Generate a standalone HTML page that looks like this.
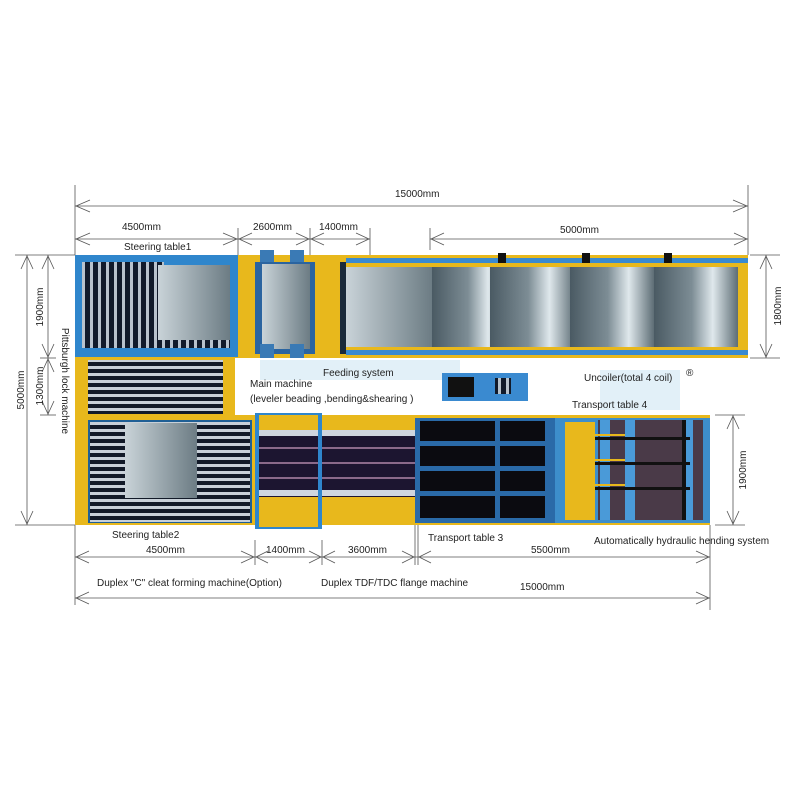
<!DOCTYPE html>
<html><head><meta charset="utf-8"><style>
body{margin:0;background:#fff;}
svg{display:block;font-family:"Liberation Sans",sans-serif;}
text{font-size:10px;fill:#222;}
</style></head><body>
<svg width="800" height="800" viewBox="0 0 800 800" xmlns="http://www.w3.org/2000/svg">
<defs>
<linearGradient id="coil" x1="0" x2="1" y1="0" y2="0">
<stop offset="0" stop-color="#4a5a63"/><stop offset="0.45" stop-color="#7d8d95"/><stop offset="0.7" stop-color="#dfe8ec"/><stop offset="1" stop-color="#5d6d75"/>
</linearGradient>
<linearGradient id="plate" x1="0" x2="1" y1="0" y2="0">
<stop offset="0" stop-color="#c9d3d8"/><stop offset="1" stop-color="#6c7c84"/>
</linearGradient>
<pattern id="vstripe" width="8" height="10" patternUnits="userSpaceOnUse">
<rect width="8" height="10" fill="#111a2a"/><rect x="2" width="3" height="10" fill="#b8c2cc"/>
</pattern>
<pattern id="hstripe" width="10" height="7" patternUnits="userSpaceOnUse">
<rect width="10" height="7" fill="#121a28"/><rect y="2" width="10" height="3" fill="#c8d0d8"/>
</pattern>
</defs>

<!-- watermark -->
<g fill="#d6e9f5" opacity="0.7">
<rect x="150" y="360" width="60" height="55"/>
<rect x="260" y="360" width="200" height="20"/>
<rect x="600" y="370" width="80" height="40"/>
</g>

<!-- dimension lines -->
<g stroke="#555" stroke-width="0.8" fill="none">
<line x1="75" y1="185" x2="75" y2="255"/><line x1="748" y1="185" x2="748" y2="255"/>
<line x1="75" y1="206" x2="748" y2="206"/>
<polyline points="90,200 76,206 90,212"/><polyline points="733,200 747,206 733,212"/>
<line x1="75" y1="239" x2="370" y2="239"/>
<line x1="238" y1="228" x2="238" y2="255"/><line x1="310" y1="228" x2="310" y2="255"/><line x1="370" y1="228" x2="370" y2="255"/>
<polyline points="90,233 76,239 90,245"/><polyline points="223,233 237,239 223,245"/>
<polyline points="252,233 239,239 252,245"/><polyline points="296,233 309,239 296,245"/>
<polyline points="324,233 311,239 324,245"/><polyline points="356,233 369,239 356,245"/>
<line x1="430" y1="239" x2="748" y2="239"/><line x1="430" y1="228" x2="430" y2="250"/>
<polyline points="444,233 431,239 444,245"/><polyline points="734,233 747,239 734,245"/>
<!-- left -->
<line x1="15" y1="255" x2="75" y2="255"/><line x1="15" y1="525" x2="75" y2="525"/>
<line x1="27" y1="255" x2="27" y2="525"/>
<polyline points="21,269 27,256 33,269"/><polyline points="21,511 27,524 33,511"/>
<line x1="48" y1="255" x2="48" y2="415"/><line x1="40" y1="358" x2="56" y2="358"/><line x1="40" y1="415" x2="56" y2="415"/>
<polyline points="42,269 48,256 54,269"/><polyline points="42,344 48,357 54,344"/>
<polyline points="42,372 48,359 54,372"/><polyline points="42,401 48,414 54,401"/>
<!-- right -->
<line x1="750" y1="255" x2="780" y2="255"/><line x1="750" y1="358" x2="780" y2="358"/>
<line x1="766" y1="255" x2="766" y2="358"/>
<polyline points="760,269 766,256 772,269"/><polyline points="760,344 766,357 772,344"/>
<line x1="715" y1="415" x2="745" y2="415"/><line x1="715" y1="525" x2="745" y2="525"/>
<line x1="733" y1="415" x2="733" y2="525"/>
<polyline points="727,429 733,416 739,429"/><polyline points="727,511 733,524 739,511"/>
<!-- bottom -->
<line x1="75" y1="525" x2="75" y2="605"/><line x1="710" y1="525" x2="710" y2="610"/>
<line x1="255" y1="540" x2="255" y2="565"/><line x1="322" y1="540" x2="322" y2="565"/>
<line x1="415" y1="525" x2="415" y2="565"/><line x1="418" y1="525" x2="418" y2="565"/>
<line x1="75" y1="557" x2="710" y2="557"/>
<polyline points="89,551 76,557 89,563"/><polyline points="241,551 254,557 241,563"/>
<polyline points="268,551 256,557 268,563"/><polyline points="309,551 321,557 309,563"/>
<polyline points="335,551 323,557 335,563"/><polyline points="402,551 414,557 402,563"/>
<polyline points="431,551 419,557 431,563"/><polyline points="696,551 709,557 696,563"/>
<line x1="75" y1="598" x2="710" y2="598"/>
<polyline points="89,592 76,598 89,604"/><polyline points="696,592 709,598 696,604"/>
</g>

<!-- TOP ROW -->
<rect x="75" y="255" width="673" height="103" fill="#e8b81c"/>
<rect x="75" y="255" width="163" height="102" fill="#2f86cc"/>
<rect x="82" y="262" width="82" height="86" fill="url(#vstripe)"/>
<rect x="158" y="265" width="72" height="76" fill="url(#plate)"/>
<rect x="158" y="340" width="72" height="8" fill="url(#vstripe)"/>
<rect x="238" y="258" width="20" height="96" fill="#e8b81c"/>
<rect x="255" y="262" width="60" height="92" fill="#2a64a0"/>
<rect x="262" y="264" width="48" height="85" fill="url(#plate)"/>
<rect x="260" y="250" width="14" height="12" fill="#3a7ab5"/><rect x="290" y="250" width="14" height="12" fill="#3a7ab5"/>
<rect x="260" y="344" width="14" height="14" fill="#3a7ab5"/><rect x="290" y="344" width="14" height="14" fill="#3a7ab5"/>
<rect x="315" y="262" width="25" height="92" fill="#e8b81c"/>
<rect x="340" y="262" width="6" height="92" fill="#1a2a3a"/>
<rect x="346" y="258" width="402" height="5" fill="#3a8ad0"/>
<rect x="346" y="350" width="402" height="5" fill="#3a8ad0"/>
<rect x="346" y="263" width="402" height="87" fill="#e8b81c"/>
<rect x="346" y="267" width="86" height="80" fill="url(#plate)"/>
<rect x="432" y="267" width="80" height="80" fill="url(#coil)"/>
<rect x="490" y="267" width="85" height="80" fill="url(#coil)"/>
<rect x="570" y="267" width="84" height="80" fill="url(#coil)"/>
<rect x="654" y="267" width="84" height="80" fill="url(#coil)"/>
<rect x="498" y="253" width="8" height="10" fill="#111"/><rect x="582" y="253" width="8" height="10" fill="#111"/><rect x="664" y="253" width="8" height="10" fill="#111"/>

<!-- MIDDLE LEFT -->
<rect x="75" y="358" width="160" height="57" fill="#e8b81c"/>
<rect x="88" y="360" width="135" height="54" fill="url(#hstripe)"/>

<!-- device -->
<rect x="442" y="373" width="86" height="28" fill="#3a8ad0"/>
<rect x="448" y="377" width="26" height="20" fill="#111"/>
<rect x="495" y="378" width="16" height="16" fill="url(#vstripe)"/>

<!-- BOTTOM ROW -->
<rect x="75" y="415" width="635" height="110" fill="#e8b81c"/>
<rect x="88" y="420" width="164" height="103" fill="#1f5f95"/>
<rect x="90" y="422" width="160" height="100" fill="url(#hstripe)"/>
<rect x="125" y="423" width="72" height="75" fill="url(#plate)"/>
<rect x="255" y="413" width="67" height="116" fill="#2f86cc"/>
<rect x="259" y="415" width="59" height="112" fill="#e8b81c"/>
<rect x="259" y="432" width="160" height="65" fill="#1c1530"/>
<rect x="259" y="430" width="160" height="6" fill="#cfd6de"/>
<rect x="259" y="490" width="160" height="6" fill="#cfd6de"/>
<rect x="259" y="447" width="160" height="2" fill="#8a6a8a"/><rect x="259" y="462" width="160" height="2" fill="#8a6a8a"/><rect x="259" y="477" width="160" height="2" fill="#8a6a8a"/>
<rect x="318" y="413" width="4" height="116" fill="#2f86cc"/>
<rect x="415" y="418" width="140" height="105" fill="#2a6aa8"/>
<g fill="#0b0b10">
<rect x="420" y="421" width="75" height="20"/><rect x="500" y="421" width="45" height="20"/>
<rect x="420" y="446" width="75" height="20"/><rect x="500" y="446" width="45" height="20"/>
<rect x="420" y="471" width="75" height="20"/><rect x="500" y="471" width="45" height="20"/>
<rect x="420" y="496" width="75" height="22"/><rect x="500" y="496" width="45" height="22"/>
</g>
<rect x="555" y="418" width="155" height="105" fill="#3d8ecb"/>
<rect x="565" y="422" width="30" height="98" fill="#e8b81c"/>
<rect x="598" y="420" width="105" height="100" fill="#4a3a48"/>
<rect x="600" y="420" width="10" height="100" fill="#4a9ad8"/><rect x="625" y="420" width="10" height="100" fill="#4a9ad8"/><rect x="685" y="420" width="8" height="100" fill="#4a9ad8"/>
<g fill="#111"><rect x="595" y="437" width="95" height="3"/><rect x="595" y="462" width="95" height="3"/><rect x="595" y="487" width="95" height="3"/><rect x="682" y="420" width="4" height="100"/></g>
<g fill="#e8b81c"><rect x="595" y="434" width="30" height="2"/><rect x="595" y="459" width="30" height="2"/><rect x="595" y="484" width="30" height="2"/></g>

<!-- labels -->
<text x="395" y="197" font-size="10">15000mm</text>
<text x="122" y="230">4500mm</text>
<text x="253" y="230">2600mm</text>
<text x="319" y="230">1400mm</text>
<text x="560" y="233">5000mm</text>
<text x="124" y="250">Steering table1</text>
<text x="323" y="376">Feeding system</text>
<text x="250" y="387">Main machine</text>
<text x="250" y="402">(leveler beading ,bending&amp;shearing )</text>
<text x="584" y="381">Uncoiler(total 4 coil)</text>
<text x="572" y="408">Transport table 4</text>
<text x="686" y="376" fill="#9cc8e8" font-size="13">®</text>
<text x="112" y="538">Steering table2</text>
<text x="146" y="553">4500mm</text>
<text x="266" y="553">1400mm</text>
<text x="348" y="553">3600mm</text>
<text x="428" y="541">Transport table 3</text>
<text x="531" y="553">5500mm</text>
<text x="594" y="544">Automatically hydraulic hending system</text>
<text x="97" y="586">Duplex "C" cleat forming machine(Option)</text>
<text x="321" y="586">Duplex TDF/TDC flange machine</text>
<text x="520" y="590">15000mm</text>
<text transform="translate(24,390) rotate(-90)" text-anchor="middle">5000mm</text>
<text transform="translate(43,307) rotate(-90)" text-anchor="middle">1900mm</text>
<text transform="translate(43,386) rotate(-90)" text-anchor="middle">1300mm</text>
<text transform="translate(62,381) rotate(90)" text-anchor="middle">Pittsburgh lock machine</text>
<text transform="translate(781,306) rotate(-90)" text-anchor="middle">1800mm</text>
<text transform="translate(746,470) rotate(-90)" text-anchor="middle">1900mm</text>
</svg>
</body></html>
